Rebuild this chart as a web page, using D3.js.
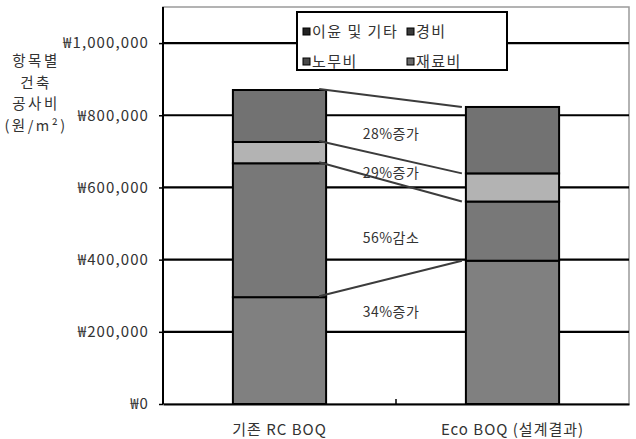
<!DOCTYPE html>
<html>
<head>
<meta charset="utf-8">
<script src="https://cdn.jsdelivr.net/npm/d3@7"></script>
<style>
  html, body { margin: 0; padding: 0; background: #fff; }
  svg { display: block; font-family: "Noto Sans CJK KR", "DejaVu Sans", sans-serif; }
</style>
</head>
<body>
<svg id="chart" width="636" height="439"></svg>
<script>
// Cost items per building scheme (won per m²)
const categories = ["기존 RC BOQ", "Eco BOQ (설계결과)"];
const seriesNames = ["재료비", "노무비", "경비", "이윤 및 기타"];
const materialCost = [296000, 397000];
const laborCost = [371000, 164000];
const expenseCost = [59000, 78000];
const profitOther = [144000, 184000];
const yTicks = [0, 200000, 400000, 600000, 800000, 1000000];
const changeLabels = ["34%증가", "56%감소", "29%증가", "28%증가"];
const changeLabelAt = [256000, 459000, 639000, 748000];
const yTitleLines = ["항목별", "건축", "공사비", "(원/m²)"];

const W = 636, H = 439;
const margin = { top: 7, right: 7, bottom: 35, left: 163 };
const svg = d3.select("#chart");

const x = d3.scaleBand()
  .domain(categories)
  .range([margin.left, W - margin.right])
  .paddingInner(0.6)
  .paddingOuter(0.3);
const y = d3.scaleLinear()
  .domain([0, 1100000])
  .range([H - margin.bottom, margin.top]);

const seriesValues = [materialCost, laborCost, expenseCost, profitOther];
const rows = categories.map((c, i) => {
  const r = { category: c };
  seriesNames.forEach((s, k) => { r[s] = seriesValues[k][i]; });
  return r;
});
const stacked = d3.stack().keys(seriesNames)(rows);
const fills = { "재료비": "#808080", "노무비": "#787878", "경비": "#b3b3b3", "이윤 및 기타": "#727272" };
const markerFills = { "재료비": "#6a6a6a", "노무비": "#4a4a4a", "경비": "#3a3a3a", "이윤 및 기타": "#222" };

// plot frame (top / right)
svg.append("rect")
  .attr("x", margin.left).attr("y", margin.top)
  .attr("width", W - margin.right - margin.left)
  .attr("height", H - margin.bottom - margin.top)
  .attr("fill", "#fff").attr("stroke", "#9a9a9a").attr("stroke-width", 1.5);

// horizontal gridlines
svg.append("g").selectAll("line")
  .data(yTicks.filter(d => d > 0))
  .join("line")
  .attr("x1", margin.left).attr("x2", W - margin.right)
  .attr("y1", d => y(d)).attr("y2", d => y(d))
  .attr("stroke", "#000").attr("stroke-width", 2.2);

// stacked bars
svg.append("g").selectAll("g")
  .data(stacked)
  .join("g")
  .attr("fill", d => fills[d.key])
  .selectAll("rect")
  .data(d => d)
  .join("rect")
  .attr("x", d => x(d.data.category))
  .attr("width", x.bandwidth())
  .attr("y", d => y(d[1]))
  .attr("height", d => y(d[0]) - y(d[1]))
  .attr("stroke", "#000").attr("stroke-width", 2);

// connector lines between segment tops of the two bars
const x0 = x(categories[0]) + x.bandwidth();
const x1 = x(categories[1]);
svg.append("g").selectAll("line")
  .data(stacked)
  .join("line")
  .attr("x1", x0 - 7).attr("y1", d => y(d[0][1]) - 1)
  .attr("x2", x1 - 4).attr("y2", d => y(d[1][1]))
  .attr("stroke", "#3c3c3c").attr("stroke-width", 2);

// change labels
const midX = (x0 + x1) / 2;
svg.append("g").selectAll("text")
  .data(changeLabels)
  .join("text")
  .attr("x", midX - 5)
  .attr("y", (d, i) => y(changeLabelAt[i]))
  .attr("dy", "0.35em")
  .attr("text-anchor", "middle")
  .attr("font-size", 14)
  .attr("letter-spacing", 0.5)
  .attr("fill", "#333")
  .text(d => d);

// y axis
const yAxis = d3.axisLeft(y)
  .tickValues(yTicks)
  .tickSize(4)
  .tickPadding(10)
  .tickFormat(d => "₩" + d3.format(",")(d));
const gy = svg.append("g")
  .attr("transform", `translate(${margin.left},0)`)
  .call(yAxis);
gy.select(".domain").attr("stroke", "#000").attr("stroke-width", 2)
  .attr("d", `M0,${y(0)}V${margin.top}`);
gy.selectAll(".tick line").attr("stroke", "#000").attr("stroke-width", 1.5);
gy.selectAll(".tick text").attr("font-size", 15).attr("fill", "#333")
  .attr("letter-spacing", 1.1)
  .attr("font-family", "\"Noto Sans CJK KR\", sans-serif");

// x axis
const xAxis = d3.axisBottom(x).tickSize(0).tickPadding(20);
const gx = svg.append("g")
  .attr("transform", `translate(0,${y(0)})`)
  .call(xAxis);
gx.select(".domain").attr("stroke", "#000").attr("stroke-width", 2.2);
gx.selectAll(".tick text").attr("font-size", 15).attr("fill", "#333")
  .attr("letter-spacing", 1)
  .attr("font-family", "\"Noto Sans CJK KR\", sans-serif");
// category separator tick
svg.append("line")
  .attr("x1", midX).attr("x2", midX)
  .attr("y1", y(0)).attr("y2", y(0) - 5)
  .attr("stroke", "#000").attr("stroke-width", 1.5);

// y axis title
svg.append("g").selectAll("text")
  .data(yTitleLines)
  .join("text")
  .attr("x", 36)
  .attr("y", (d, i) => 61 + i * 21.5)
  .attr("dy", "0.35em")
  .attr("text-anchor", "middle")
  .attr("font-size", 14.5)
  .attr("letter-spacing", 2.5)
  .attr("fill", "#333")
  .text(d => d);

// legend
const legend = svg.append("g").attr("transform", "translate(297,12)");
legend.append("rect")
  .attr("width", 210).attr("height", 58)
  .attr("fill", "#fff").attr("stroke", "#000").attr("stroke-width", 2);
const legendOrder = ["이윤 및 기타", "경비", "노무비", "재료비"];
const legendItems = legend.selectAll("g")
  .data(legendOrder)
  .join("g")
  .attr("transform", (d, i) => `translate(${i % 2 === 0 ? 6 : 110},${i < 2 ? 20 : 50})`);
legendItems.append("rect")
  .attr("x", 0).attr("y", -4).attr("width", 7).attr("height", 7)
  .attr("fill", d => markerFills[d]).attr("stroke", "#000").attr("stroke-width", 1);
legendItems.append("text")
  .attr("x", 9).attr("dy", "0.35em")
  .attr("font-size", 15).attr("letter-spacing", 1.5).attr("fill", "#333")
  .text(d => d);
</script>
</body>
</html>
